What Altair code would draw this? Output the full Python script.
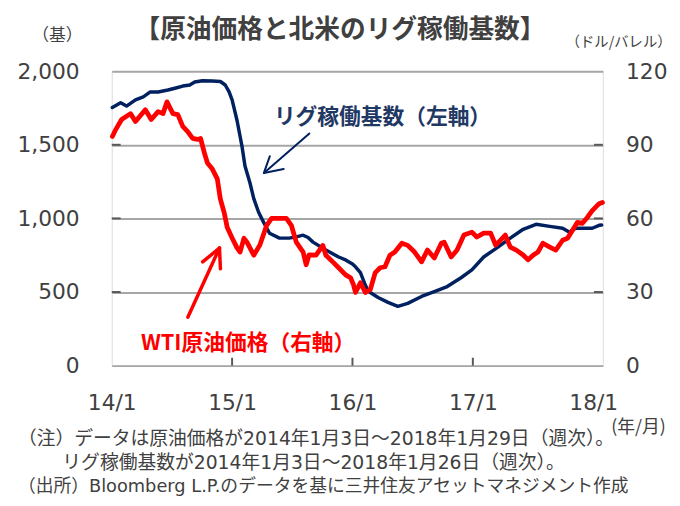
import altair as alt
import pandas as pd

# ---- data (decimal year, value) ----
rig_t = [2014.005, 2014.074, 2014.123, 2014.197, 2014.262, 2014.320, 2014.385, 2014.467,
         2014.533, 2014.590, 2014.648, 2014.689, 2014.754, 2014.836, 2014.902, 2014.943,
         2014.975, 2015.000, 2015.041, 2015.082, 2015.107, 2015.148, 2015.180, 2015.221,
         2015.262, 2015.311, 2015.393, 2015.475, 2015.533, 2015.590, 2015.631, 2015.672,
         2015.779, 2015.885, 2015.943, 2016.000, 2016.025, 2016.066, 2016.100, 2016.131,
         2016.213, 2016.295, 2016.377, 2016.459, 2016.574, 2016.680, 2016.787, 2016.902,
         2016.992, 2017.090, 2017.197, 2017.311, 2017.418, 2017.525, 2017.639, 2017.746,
         2017.803, 2017.852, 2017.934, 2017.992, 2018.049, 2018.070]
rig_v = [1753, 1785, 1763, 1805, 1826, 1859, 1859, 1872,
         1886, 1899, 1906, 1926, 1935, 1933, 1930, 1906,
         1859, 1805, 1665, 1490, 1356, 1242, 1134, 1040,
         973, 899, 866, 866, 875, 886, 870, 839,
         785, 738, 718, 690, 671, 631, 560, 505,
         463, 430, 403, 423, 470, 503, 537, 597,
         650, 738, 798, 866, 926, 960, 946, 933,
         906, 933, 933, 933, 953, 955]

wti_t = [2014.005, 2014.033, 2014.082, 2014.156, 2014.197, 2014.279, 2014.328, 2014.385,
         2014.426, 2014.459, 2014.508, 2014.549, 2014.590, 2014.631, 2014.672, 2014.713,
         2014.738, 2014.770, 2014.795, 2014.836, 2014.877, 2014.902, 2014.934, 2014.959,
         2015.000, 2015.041, 2015.066, 2015.098, 2015.123, 2015.180, 2015.230, 2015.287,
         2015.328, 2015.451, 2015.492, 2015.533, 2015.590, 2015.615, 2015.639, 2015.697,
         2015.754, 2015.779, 2015.836, 2015.885, 2015.943, 2015.984, 2016.008, 2016.025,
         2016.066, 2016.107, 2016.148, 2016.189, 2016.230, 2016.270, 2016.311, 2016.352,
         2016.410, 2016.459, 2016.516, 2016.574, 2016.623, 2016.680, 2016.738, 2016.762,
         2016.820, 2016.869, 2016.926, 2016.992, 2017.033, 2017.090, 2017.148, 2017.189,
         2017.230, 2017.270, 2017.311, 2017.361, 2017.418, 2017.459, 2017.500, 2017.541,
         2017.582, 2017.639, 2017.689, 2017.746, 2017.787, 2017.828, 2017.869, 2017.910,
         2017.951, 2017.992, 2018.049, 2018.077]
wti_v = [93.4, 96.2, 100.3, 102.7, 99.5, 104.3, 100.3, 103.5,
         102.7, 107.5, 102.7, 102.3, 97.5, 95.4, 92.6, 92.2,
         92.6, 86.6, 82.6, 80.1, 76.1, 68.0, 62.4, 56.4,
         52.0, 48.0, 46.3, 51.9, 50.3, 45.0, 49.1, 57.2,
         60.0, 60.0, 57.2, 50.3, 46.3, 41.1, 45.1, 45.0,
         49.0, 45.0, 42.3, 39.9, 37.0, 35.8, 33.0, 29.8,
         33.8, 29.8, 31.0, 37.9, 39.9, 40.3, 45.0, 46.3,
         49.9, 49.0, 46.3, 42.3, 47.1, 43.9, 49.9, 50.3,
         44.3, 47.1, 53.2, 54.4, 52.4, 54.0, 54.0, 49.1,
         51.1, 53.2, 48.3, 47.1, 45.1, 43.1, 45.0, 46.3,
         49.9, 48.3, 47.1, 51.1, 51.9, 55.2, 58.4, 58.0,
         60.4, 63.2, 66.0, 66.5]

year_ticks = [2014, 2015, 2016, 2017, 2018]
left_ticks = [0, 500, 1000, 1500, 2000]
right_ticks = [0, 30, 60, 90, 120]

rig_df = pd.DataFrame({"t": rig_t, "v": rig_v})
wti_df = pd.DataFrame({"t": wti_t, "v": wti_v})

W, H = 497, 298
NAVY = "#002060"
NAVY_TXT = "#1F3864"
RED = "#FF0000"
GRAY = "#404040"
JP = "Noto Sans CJK JP"
MIX = "DejaVu Sans, Noto Sans CJK JP"
NUM = "DejaVu Sans"

xscale = alt.Scale(domain=[2014, 2018.08], nice=False, zero=False)
xaxis = alt.Axis(values=year_ticks, labelExpr="substring(toString(datum.value), 2) + '/1'",
                 grid=False, ticks=False, domain=False, labelPadding=27,
                 labelFontSize=22, labelFont=NUM, labelColor=GRAY, title=None,
                 labelFlush=False)
lscale = alt.Scale(domain=[0, 2000], nice=False)
laxis = alt.Axis(values=left_ticks, labelExpr="format(datum.value, ',')", grid=True,
                 gridColor="#A6A6A6", gridWidth=2, ticks=False, domain=False,
                 labelPadding=33, labelFontSize=22, labelFont=NUM,
                 labelColor=GRAY, title=None, orient="left")
X = alt.X("t:Q", scale=xscale, axis=xaxis)
YL = alt.Y("v:Q", scale=lscale, axis=laxis)

rig_line = alt.Chart(rig_df).mark_line(color=NAVY, strokeWidth=3.5, strokeJoin="round",
                                       strokeCap="round").encode(x=X, y=YL)

one = alt.Data(values=[{}])

def txt(text, x, y, size, color, bold=False, align="center", font=JP):
    return alt.Chart(one).mark_text(text=text, fontSize=size, color=color, font=font,
                                    fontWeight="bold" if bold else "normal",
                                    align=align, baseline="middle").encode(
        x=alt.value(x), y=alt.value(y))

def seg(x1, y1, x2, y2, color, w):
    return alt.Chart(one).mark_rule(color=color, strokeWidth=w, strokeCap="round").encode(
        x=alt.value(x1), y=alt.value(y1), x2=alt.value(x2), y2=alt.value(y2))

# inward tick marks
tick_df = pd.DataFrame({"v": [500, 1000, 1500], "t": [2015, 2016, 2017]})
left_in = alt.Chart(tick_df).mark_rule(color="#595959", strokeWidth=2).encode(
    y=YL, x=alt.value(0), x2=alt.value(9))
right_in = alt.Chart(tick_df).mark_rule(color="#595959", strokeWidth=2).encode(
    y=YL, x=alt.value(W - 9), x2=alt.value(W))
xt_df = pd.DataFrame({"t": year_ticks[1:4]})
x_in = alt.Chart(xt_df).mark_rule(color="#595959", strokeWidth=2).encode(
    x=X, y=alt.value(H - 8), y2=alt.value(H))

annots = [
    txt("【原油価格と北米のリグ稼働基数】", 231, -42, 26, GRAY, bold=True),
    txt("（基）", -55, -36, 17, GRAY),
    txt("（ドル/バレル）", 513, -28, 14.5, GRAY),
    txt("(年/月)", 533, 361, 18, GRAY),
    txt("（注）データは原油価格が2014年1月3日～2018年1月29日（週次）。", -95, 372, 19, GRAY, align="left", font=MIX),
    txt("リグ稼働基数が2014年1月3日～2018年1月26日（週次）。", -50, 397, 19, GRAY, align="left", font=MIX),
    txt("（出所）Bloomberg L.P.のデータを基に三井住友アセットマネジメント作成", -95, 421, 18, GRAY, align="left", font=MIX),
    txt("リグ稼働基数（左軸）", 274, 46, 22, NAVY_TXT, bold=True),
    txt("WTI原油価格（右軸）", 138, 275, 22, RED, bold=True),
    seg(200, 63, 154, 103, NAVY, 2),
    seg(154, 103, 160, 86, NAVY, 2),
    seg(154, 103, 174, 99, NAVY, 2),
    seg(77, 249, 109, 179, RED, 3.5),
    seg(109, 179, 92, 193, RED, 3.5),
    seg(109, 179, 110, 200, RED, 3.5),
]

left_group = alt.layer(rig_line, left_in, right_in, x_in, *annots)

wti_line = alt.Chart(wti_df).mark_line(color=RED, strokeWidth=4.8, strokeJoin="round",
                                       strokeCap="round").encode(
    x=X,
    y=alt.Y("v:Q", scale=alt.Scale(domain=[0, 120], nice=False),
            axis=alt.Axis(values=right_ticks, grid=False, ticks=False,
                          domain=False, labelPadding=23, labelFontSize=22, labelFont=NUM,
                          labelColor=GRAY, title=None, orient="right")),
)

chart = alt.layer(left_group, wti_line).resolve_scale(y="independent").properties(
    width=W, height=H,
    autosize=alt.AutoSizeParams(type="none"),
    padding={"left": 105, "top": 61, "right": 70, "bottom": 129},
).configure_view(stroke="#595959", strokeWidth=2.5).configure(background="white")

chart.save("out.html", embed_options={"renderer": "svg", "actions": False})
